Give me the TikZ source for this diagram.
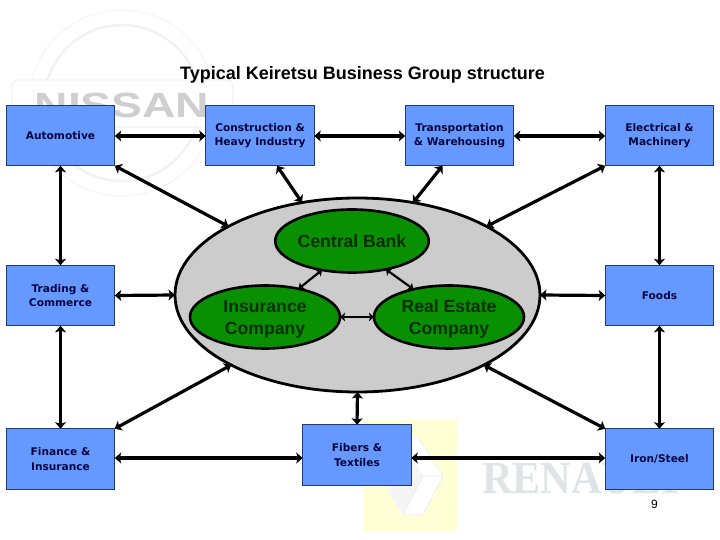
\documentclass[tikz,border=0pt]{standalone}
\usepackage{fontspec}
\usepackage{graphicx}
\setmainfont{Liberation Sans}
\newfontfamily\boxfont{DejaVu Sans}
\newfontfamily\logoserif{Liberation Serif}
\usetikzlibrary{shapes.geometric,arrows.meta}
\definecolor{boxblue}{HTML}{6699FF}
\definecolor{boxedge}{HTML}{1F3A78}
\definecolor{boxtext}{HTML}{05053F}
\definecolor{biggrey}{HTML}{CCCCCC}
\definecolor{bankgreen}{HTML}{089000}
\definecolor{banktext}{HTML}{032E00}
\definecolor{logoring}{HTML}{F2F2F2}
\definecolor{logotext}{HTML}{CFCFCF}
\definecolor{renotext}{HTML}{DFE4E6}
\definecolor{renoyellow}{HTML}{FFFFD6}
\tikzset{
  firm/.style={draw=boxedge,line width=0.9pt,fill=boxblue,minimum width=108.5pt,minimum height=60.5pt,inner sep=0pt,outer sep=0pt,align=center,text=boxtext,font=\boxfont\bfseries\fontsize{10.6}{14.5}\selectfont},
  bigoval/.style={ellipse,draw=black,line width=2.8pt,fill=biggrey,minimum width=365pt,minimum height=194pt,inner sep=0pt,outer sep=0pt},
  core/.style={ellipse,draw=black,line width=2.6pt,fill=bankgreen,minimum width=150pt,minimum height=63pt,inner sep=0pt,outer sep=0pt,align=center,text=banktext,font=\bfseries\fontsize{17.6}{22}\selectfont},
  link/.style={line width=3.2pt,{Stealth[length=6.5pt,width=11pt,inset=1.5pt]}-{Stealth[length=6.5pt,width=11pt,inset=1.5pt]}},
  innerlink/.style={line width=2.2pt,{Stealth[length=5pt,width=8.5pt,inset=1pt]}-{Stealth[length=5pt,width=8.5pt,inset=1pt]}},
  wm/.style={inner sep=0pt,outer sep=0pt}
}
\begin{document}
\begin{tikzpicture}[x=1pt,y=-1pt]
\useasboundingbox (0,0) rectangle (720,540);
% Nissan watermark
\draw[logoring,line width=0.8pt] (122,103) circle (93);
\draw[logoring,line width=2.5pt] (122,103) circle (78);
\fill[white,draw=logoring,line width=1.2pt,rounded corners=6pt] (12,80) rectangle (233,127);
\node[wm,text=logotext,font=\bfseries\fontsize{35}{35}\selectfont] (nissanlogo) at (122,105) {\scalebox{1.32}[1]{NISSAN}};
% Renault watermark
\fill[renoyellow] (364,420) rectangle (458,531);
\fill[white] (418,437) -- (443,476) -- (423,515) -- (403,515) -- (387,490) -- (395,437) -- cycle;
\fill[black!4] (387,490) -- (403,515) -- (423,476) -- (410,452) -- cycle;
\draw[black!7,line width=0.8pt] (418,437) -- (443,476) -- (423,515) -- (403,515) -- (423,476) -- (443,476);
\node[wm,text=renotext,font=\logoserif\bfseries\fontsize{46}{46}\selectfont,anchor=base west] (renaultlogo) at (482,493) {\scalebox{0.92}[1]{RENAULT}};
% Title
\node[wm,font=\bfseries\fontsize{18}{20}\selectfont] (title) at (362.5,74.5) {Typical Keiretsu Business Group structure};
% Firms
\node[firm] (auto) at (60.5,135.5) {Automotive};
\node[firm] (constr) at (260,135.5) {Construction \&\\Heavy Industry};
\node[firm] (trans) at (459.5,135.5) {Transportation\\\& Warehousing};
\node[firm] (elec) at (659.5,135.5) {Electrical \&\\Machinery};
\node[firm] (trading) at (60.5,295.5) {Trading \&\\Commerce};
\node[firm] (foods) at (659.5,295.5) {Foods};
\node[firm] (finance) at (60.5,459) {Finance \&\\Insurance};
\node[firm] (fibers) at (357,455) {Fibers \&\\Textiles};
\node[firm] (iron) at (659.5,459) {Iron/Steel};
% Centre
\node[bigoval] (big) at (357.5,295) {};
\node[core] (bank) at (352,241) {Central Bank};
\node[core] (ins) at (265,317) {\rule{0pt}{16pt}Insurance\\Company};
\node[core] (real) at (449,317) {\rule{0pt}{16pt}Real Estate\\Company};
% Page number
\node[wm,font=\fontsize{12}{14}\selectfont] (pageno) at (654.5,504) {9};
% Links between firms
\draw[link] (auto.east |- 0,136) -- (constr.west |- 0,136);
\draw[link] (constr.east |- 0,136) -- (trans.west |- 0,136);
\draw[link] (trans.east |- 0,136) -- (elec.west |- 0,136);
\draw[link] (auto.south) -- (trading.north);
\draw[link] (trading.south) -- (finance.north);
\draw[link] (elec.south) -- (foods.north);
\draw[link] (foods.south) -- (iron.north);
\draw[link] (finance.east |- 0,458) -- (fibers.west |- 0,458);
\draw[link] (fibers.east |- 0,458) -- (iron.west |- 0,458);
% Links to the group
\draw[link] (auto.south east) -- (big.152);
\draw[link] ([xshift=17pt]constr.south) -- (big.121);
\draw[link] ([xshift=-17pt]trans.south) -- (big.59);
\draw[link] (elec.south west) -- (big.28);
\draw[link] (trading.east) -- (big.west);
\draw[link] (foods.west) -- (big.east);
\draw[link] (finance.north east) -- (big.209);
\draw[link] (iron.north west) -- (big.331);
\draw[link] (fibers.north) -- (big.south);
% Inner links
\draw[innerlink] (bank.224) -- (ins.40);
\draw[innerlink] (bank.320) -- (real.142);
\draw[innerlink] (ins.east) -- (real.west);
\end{tikzpicture}
\end{document}
